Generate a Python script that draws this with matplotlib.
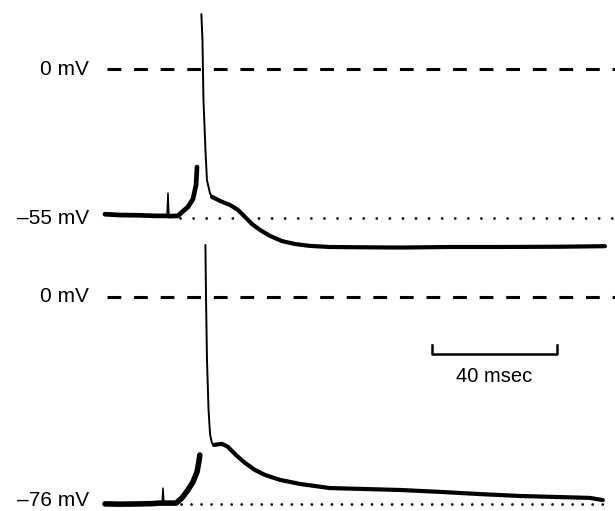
import matplotlib.pyplot as plt

# --- trace data (time in msec, membrane potential in mV) ---
# upper record: resting at -55 mV
top_base_t = [0.0, 5.0, 11.2, 16.0, 19.2, 21.0, 23.4, 24.7, 26.6, 28.2, 29.2, 29.5]
top_base_v = [-53.6, -53.9, -54.0, -54.2, -54.2, -54.3, -54.2, -52.8, -50.9, -48.0, -42.8, -36.2]
top_blip_t = [19.9, 20.2, 20.5]
top_blip_v = [-54.2, -45.8, -54.2]
top_spike_t = [30.9, 31.25, 31.57, 32.21, 32.69, 33.65, 34.3]
top_spike_v = [20.3, 10.7, -11.4, -29.9, -41.0, -45.8, -47.2]
top_after_t = [34.3, 36.9, 40.1, 42.6, 44.9, 47.1, 49.7, 52.9, 56.7, 60.9, 65.7,
               72.1, 81.7, 94.6, 110.6, 126.6, 145.8, 160.3]
top_after_v = [-47.2, -48.7, -50.2, -52.0, -54.6, -57.2, -59.4, -61.6, -63.5, -64.6, -65.3,
               -65.7, -65.8, -65.9, -65.7, -65.7, -65.6, -65.4]

# lower record: resting at -76 mV
bot_base_t = [0.0, 5.0, 11.2, 15.0, 17.6, 20.8, 22.8, 24.7, 26.6, 28.2, 29.5, 30.1, 30.4]
bot_base_v = [-75.8, -75.9, -75.8, -75.7, -75.5, -75.5, -75.5, -73.6, -70.7, -67.8, -64.1, -60.4, -57.9]
bot_blip_t = [18.3, 18.6, 18.9]
bot_blip_v = [-75.5, -70.0, -75.5]
bot_spike_t = [32.2, 32.4, 32.7, 33.2, 33.7, 34.3, 34.9]
bot_spike_v = [19.0, -1.1, -23.1, -41.4, -50.5, -53.5, -54.2]
bot_after_t = [34.9, 37.5, 39.4, 42.0, 44.9, 48.1, 51.3, 56.1, 62.5, 72.1, 81.7,
               94.6, 107.4, 120.2, 133.0, 145.8, 155.4, 159.6]
bot_after_v = [-54.2, -53.8, -54.9, -57.9, -60.8, -63.4, -65.2, -67.0, -68.5, -70.0, -70.3,
               -70.7, -71.4, -72.2, -72.9, -73.3, -73.6, -74.4]

# reference levels
top_zero, top_rest = 0, -55
bot_zero, bot_rest = 0, -76
top_labels = ["0 mV", "\u201355 mV"]
bot_labels = ["0 mV", "\u201376 mV"]
scale_ms = 40
scale_label = "40 msec"

plt.rcParams['font.family'] = ['Liberation Sans', 'DejaVu Sans']

fig = plt.figure(figsize=(6.15, 5.11), dpi=100)
ax_top = fig.add_axes([0.1707, 0.4912, 0.8293, 0.5088])
ax_bot = fig.add_axes([0.1707, 0.0, 0.8293, 0.5499])
ax_top.set_xlim(0, 163.5)
ax_top.set_ylim(-70.5, 25.5)
ax_bot.set_xlim(0, 163.5)
ax_bot.set_ylim(-78.4, 24.5)

dash = dict(color='black', lw=2.2, linestyle=(0, (4.5, 4.2)), clip_on=False)
thick = dict(color='black', solid_capstyle='round', solid_joinstyle='round', clip_on=False)

def draw_record(ax, base_t, base_v, blip_t, blip_v, spike_t, spike_v, after_t, after_v,
                zero, rest, labels, dot_start, dot_end, dot_gap, base_lw, label_lift=0.0):
    ax.axis('off')
    ax.plot([0.5, 163.5], [zero, zero], **dash)
    ax.plot([dot_start, dot_end], [rest, rest], color='black', lw=2.0,
            linestyle=(0, (0.01, dot_gap)), dash_capstyle='round', clip_on=False)
    ax.plot(base_t, base_v, lw=base_lw, **thick)
    ax.plot(blip_t, blip_v, lw=1.1, **thick)
    ax.plot(spike_t, spike_v, lw=1.4, **thick)
    ax.plot(after_t, after_v, lw=3.0, **thick)
    ax.text(-5.1, zero, labels[0], ha='right', va='center', fontsize=15)
    # the lowest label sits on the bottom edge, lift it just enough to stay inside
    ax.text(-5.1, rest + label_lift, labels[1], ha='right', va='center', fontsize=15)

draw_record(ax_top, top_base_t, top_base_v, top_blip_t, top_blip_v, top_spike_t, top_spike_v,
            top_after_t, top_after_v, top_zero, top_rest, top_labels, 24.0, 163.5, 4.7, 3.4)
draw_record(ax_bot, bot_base_t, bot_base_v, bot_blip_t, bot_blip_v, bot_spike_t, bot_spike_v,
            bot_after_t, bot_after_v, bot_zero, bot_rest, bot_labels, 24.5, 160.0, 3.6, 4.0,
            label_lift=1.3)

# time scale bar
bar_x0 = 104.8
bar_y = -20.9
ax_bot.plot([bar_x0, bar_x0, bar_x0 + scale_ms, bar_x0 + scale_ms],
            [bar_y + 3.2, bar_y, bar_y, bar_y + 3.2], color='black', lw=1.8, clip_on=False)
ax_bot.text(bar_x0 + scale_ms / 2, bar_y - 8.4, scale_label, ha='center', va='center', fontsize=14.5)

fig.savefig("out.png", dpi=100, facecolor='white')
